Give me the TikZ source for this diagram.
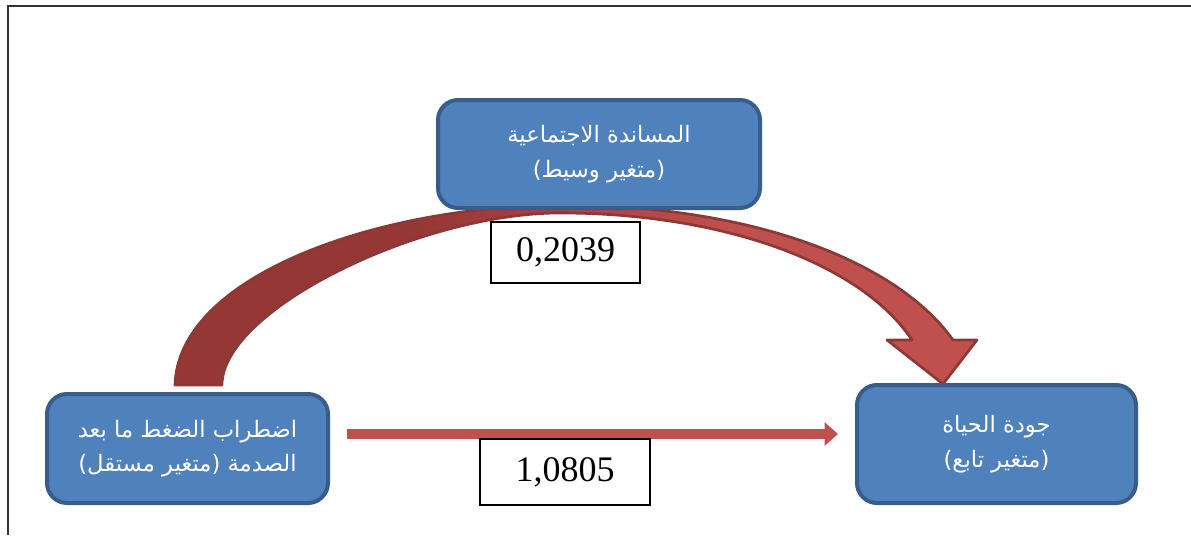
\documentclass[tikz,border=0pt]{standalone}
\usepackage{fontspec}
\setmainfont{Liberation Serif}
\newfontfamily\arabicfont[Script=Arabic]{DejaVu Sans}
\TeXXeTstate=1
\usetikzlibrary{arrows.meta}
\definecolor{boxblue}{HTML}{4F81BD}
\definecolor{boxedge}{HTML}{385D8A}
\definecolor{arrred}{HTML}{C0504D}
\definecolor{arrdark}{HTML}{953735}
\definecolor{arredge}{HTML}{8C3836}
\pgfdeclarehorizontalshading{arcshade}{100bp}{color(0bp)=(arrdark); color(40bp)=(arrdark); color(60bp)=(arrred); color(100bp)=(arrred)}
\begin{document}
\begin{tikzpicture}[x=0.75pt,y=-0.75pt,
  varbox/.style={draw=boxedge, line width=3pt, fill=boxblue, rounded corners=15pt,
    text=white, font=\arabicfont\fontsize{17}{26}\selectfont, align=center, inner sep=0pt},
  valbox/.style={draw=black, line width=0.9pt, fill=white, inner sep=0pt,
    font=\fontsize{27}{30}\selectfont},
  curvarrow/.style={draw=arredge, line width=2pt, line join=round, shading=arcshade},
  straightarrow/.style={draw=arrred, line width=7.5pt, -{Triangle[length=10pt,width=17pt]}}]
\useasboundingbox (0,0) rectangle (1191,535);
% frame
\draw[line width=1.2pt, black!80] (8,535) -- (8,6) -- (1191,6);
% curved arrow
\path[curvarrow] (175,385) .. controls (178,275) and (380,206) .. (560,205)
  .. controls (760,205) and (900,265) .. (953,340)
  -- (977,340) -- (943,384) -- (887,340) -- (912,340)
  .. controls (860,262) and (720,213) .. (560,213)
  .. controls (420,213) and (222,310) .. (222,385) -- cycle;
% nodes
\node[varbox, minimum width=241.5pt, minimum height=81pt] (mid) at (599,154)
  {\beginR المساندة الاجتماعية\endR\\\beginR (متغير وسيط)\endR};
\node[varbox, minimum width=210.75pt, minimum height=81.75pt] (indep) at (187.5,448.5)
  {\beginR اضطراب الضغط ما بعد\endR\\\beginR الصدمة (متغير مستقل)\endR};
\node[varbox, minimum width=209.25pt, minimum height=88.5pt] (dep) at (996.5,444)
  {\beginR جودة الحياة\endR\\\beginR (متغير تابع)\endR};
% straight arrow
\coordinate (s) at (347,434);
\coordinate (e) at (838,434);
\draw[straightarrow] (s) -- (e);
% value boxes
\node[valbox, minimum width=111.75pt, minimum height=45.75pt] (v1) at (565.5,252.5) {0,2039};
\node[valbox, minimum width=127.5pt, minimum height=49.5pt] (v2) at (565,472) {1,0805};
\end{tikzpicture}
\end{document}
